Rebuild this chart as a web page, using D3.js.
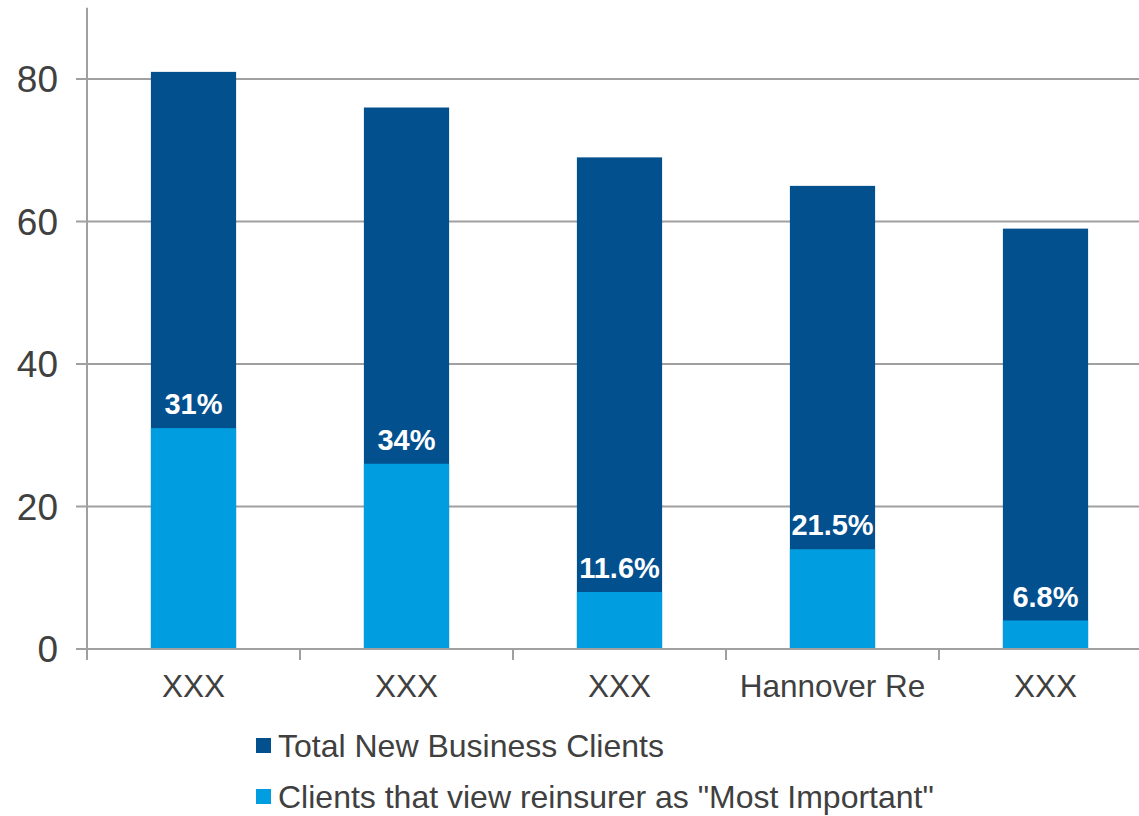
<!DOCTYPE html>
<html><head><meta charset="utf-8">
<script src="https://cdn.jsdelivr.net/npm/d3@7/dist/d3.min.js"></script>
<style>body{margin:0;background:#fff;} svg{display:block;font-family:"Liberation Sans",Arial,sans-serif;}</style>
</head><body><svg id="c" width="1139" height="816"></svg>
<script>
const categories = ["XXX","XXX","XXX","Hannover Re","XXX"];
const totalClients = [81,76,69,65,59];
const mostImportant = [31,26,8,14,4];
const pctLabels = ["31%","34%","11.6%","21.5%","6.8%"];
const yTicks = [0,20,40,60,80];
const seriesNames = ["Total New Business Clients","Clients that view reinsurer as \"Most Important\""];
const colors = ["#03508f","#009ee0"];

const svg = d3.select("#c");
const x = d3.scaleBand().domain(d3.range(categories.length)).range([87,1152]).paddingInner(0.6).paddingOuter(0.3);
const y = d3.scaleLinear().domain([0,90]).range([649,7.75]);
const grid = "#a0a0a0", txt = "#404040";

// gridlines
svg.append("g").selectAll("line").data(yTicks.filter(d=>d>0)).join("line")
  .attr("x1",76).attr("x2",1139).attr("y1",d=>y(d)).attr("y2",d=>y(d))
  .attr("stroke",grid).attr("stroke-width",2);

// bars
const g = svg.append("g");
g.selectAll("rect.tot").data(totalClients).join("rect")
  .attr("x",(d,i)=>x(i)).attr("width",x.bandwidth())
  .attr("y",d=>y(d)).attr("height",d=>y(0)-y(d)).attr("fill",colors[0]);
g.selectAll("rect.mi").data(mostImportant).join("rect")
  .attr("x",(d,i)=>x(i)).attr("width",x.bandwidth())
  .attr("y",d=>y(d)).attr("height",d=>y(0)-y(d)).attr("fill",colors[1]);

// labels
g.selectAll("text.lbl").data(pctLabels).join("text")
  .attr("x",(d,i)=>x(i)+x.bandwidth()/2).attr("y",(d,i)=>y(mostImportant[i])-14)
  .attr("text-anchor","middle").attr("fill","#fff").attr("font-weight","bold")
  .attr("font-size",29).text(d=>d);

// y axis
svg.append("line").attr("x1",87).attr("x2",87).attr("y1",y(90)).attr("y2",660)
  .attr("stroke",grid).attr("stroke-width",2);
svg.append("line").attr("x1",76).attr("x2",1139).attr("y1",y(0)).attr("y2",y(0))
  .attr("stroke",grid).attr("stroke-width",2);
svg.append("g").selectAll("text").data(yTicks).join("text")
  .attr("x",58).attr("y",d=>y(d)).attr("dy","0.36em").attr("text-anchor","end")
  .attr("font-size",37).attr("fill",txt).text(d=>d);

// x axis ticks at category boundaries
svg.append("g").selectAll("line").data(d3.range(categories.length+1)).join("line")
  .attr("x1",i=>87+i*x.step()).attr("x2",i=>87+i*x.step())
  .attr("y1",y(0)).attr("y2",660).attr("stroke",grid).attr("stroke-width",2);
svg.append("g").selectAll("text").data(categories).join("text")
  .attr("x",(d,i)=>x(i)+x.bandwidth()/2).attr("y",697)
  .attr("text-anchor","middle").attr("font-size",31.5).attr("fill",txt).text(d=>d);

// legend
const lg = svg.append("g").selectAll("g").data(seriesNames).join("g")
  .attr("transform",(d,i)=>`translate(256,${738+i*51})`);
lg.append("rect").attr("width",15).attr("height",15).attr("fill",(d,i)=>colors[i]);
lg.append("text").attr("x",22).attr("y",19).attr("font-size",32).attr("fill",txt).text(d=>d);
</script></body></html>
